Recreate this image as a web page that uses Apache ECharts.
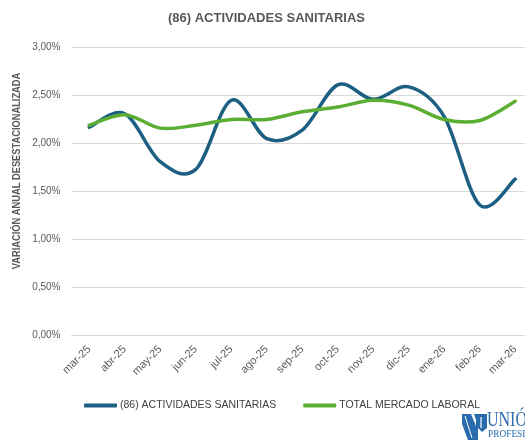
<!DOCTYPE html>
<html>
<head>
<meta charset="utf-8">
<script src="https://cdn.jsdelivr.net/npm/echarts@6/dist/echarts.min.js"></script>
<style>html,body{margin:0;padding:0;background:#fff;}#c{width:525px;height:443px;}</style>
</head>
<body>
<div id="c"></div>
<script>
var categories = ['mar-25','abr-25','may-25','jun-25','jul-25','ago-25','sep-25','oct-25','nov-25','dic-25','ene-26','feb-26','mar-26'];
var sanitarias = [2.17, 2.31, 1.81, 1.73, 2.45, 2.05, 2.14, 2.61, 2.46, 2.59, 2.28, 1.36, 1.63];
var totalMercado = [2.19, 2.30, 2.16, 2.19, 2.25, 2.25, 2.33, 2.38, 2.45, 2.40, 2.25, 2.24, 2.44];
var seriesNames = ['(86) ACTIVIDADES SANITARIAS', 'TOTAL MERCADO LABORAL'];
var titleText = '(86) ACTIVIDADES SANITARIAS';
var yAxisTitle = 'VARIACIÓN ANUAL DESESTACIONALIZADA';

var FONT = "'Liberation Sans', Arial, sans-serif";
var SERIF = "'Liberation Serif', 'DejaVu Serif', serif";
var BLUE = '#1D5F82', GREEN = '#5BAE34', LOGO = '#2A6BAE';

// Excel-style smoothed line (Catmull-Rom through the data points), drawn through the axes' coord()
function smoothRender(color) {
  return function (params, api) {
    if (params.dataIndex !== 0) return null;
    var n = params.dataInsideLength;
    var pts = [];
    for (var j = 0; j < n; j++) pts.push(api.coord([api.value(0, j), api.value(1, j)]));
    var d = 'M' + pts[0][0] + ' ' + pts[0][1];
    for (var i = 0; i < n - 1; i++) {
      var p0 = pts[Math.max(i - 1, 0)], p1 = pts[i], p2 = pts[i + 1], p3 = pts[Math.min(i + 2, n - 1)];
      var c1x = p1[0] + (p2[0] - p0[0]) / 6, c1y = p1[1] + (p2[1] - p0[1]) / 6;
      var c2x = p2[0] - (p3[0] - p1[0]) / 6, c2y = p2[1] - (p3[1] - p1[1]) / 6;
      d += ' C' + c1x + ' ' + c1y + ' ' + c2x + ' ' + c2y + ' ' + p2[0] + ' ' + p2[1];
    }
    return {type: 'path', shape: {pathData: d}, style: {fill: null, stroke: color, lineWidth: 3.5, lineCap: 'round', lineJoin: 'round'}};
  };
}

var chart = echarts.init(document.getElementById('c'), null, {renderer: 'canvas'});
chart.setOption({
  animation: false,
  backgroundColor: '#ffffff',
  title: {
    text: titleText, left: 168, top: 12, padding: 0,
    textStyle: {fontFamily: FONT, fontSize: 13, fontWeight: 'bold', color: '#595959'}
  },
  legend: {
    left: 84, top: 400, padding: 0,
    itemWidth: 33, itemHeight: 4, itemGap: 27,
    icon: 'roundRect',
    textStyle: {fontFamily: FONT, fontSize: 10.5, color: '#404040', padding: [0,0,0,-2]},
    data: [{name: seriesNames[0], itemStyle: {color: BLUE}}, {name: seriesNames[1], itemStyle: {color: GREEN}}]
  },
  grid: {left: 71.5, top: 47.5, width: 461.5, height: 288, outerBoundsMode: 'none', containLabel: false},
  xAxis: {
    type: 'category', data: categories, boundaryGap: true,
    axisLine: {lineStyle: {color: '#D9D9D9', width: 1}},
    axisTick: {show: false},
    axisLabel: {rotate: 45, margin: 12, fontFamily: FONT, fontSize: 11, color: '#595959', interval: 0}
  },
  yAxis: {
    type: 'value', min: 0, max: 3, interval: 0.5,
    axisLine: {show: false}, axisTick: {show: false},
    splitLine: {lineStyle: {color: '#D9D9D9', width: 1}},
    axisLabel: {margin: 11, fontFamily: FONT, fontSize: 10, color: '#595959',
      formatter: function(v){ return v.toFixed(2).replace('.', ',') + '%'; }}
  },
  series: [
    {name: seriesNames[0], type: 'custom', renderItem: smoothRender(BLUE),
     data: sanitarias.map(function(v, i){ return [i, v]; }), itemStyle: {color: BLUE}, z: 2, clip: false},
    {name: seriesNames[1], type: 'custom', renderItem: smoothRender(GREEN),
     data: totalMercado.map(function(v, i){ return [i, v]; }), itemStyle: {color: GREEN}, z: 3, clip: false}
  ],
  graphic: [
    {type: 'text', x: 17, y: 171, rotation: Math.PI/2, scaleX: 0.93,
     style: {text: yAxisTitle, font: "bold 10px " + FONT, fill: '#595959', align: 'center', verticalAlign: 'middle'}},
    {type: 'group', x: 462, y: 414, children: [
      {type: 'polygon', shape: {points: [[0,0],[9,0],[14,12],[14,26],[6,26],[0,10]]}, style: {fill: LOGO}},
      {type: 'polygon', shape: {points: [[12,0],[25,0],[25,14],[20,18],[16,14],[16,26],[14,26],[14,6]]}, style: {fill: LOGO}},
      {type: 'line', shape: {x1: 3, y1: 2, x2: 10, y2: 24}, style: {stroke: '#ffffff', lineWidth: 1}},
      {type: 'line', shape: {x1: 19, y1: 3, x2: 19, y2: 14}, style: {stroke: '#ffffff', lineWidth: 1.2}},
      {type: 'text', x: 25, y: -3, scaleX: 0.8, style: {text: 'UNIÓN', font: "20px " + SERIF, fill: LOGO}},
      {type: 'text', x: 26, y: 15, scaleX: 0.85, style: {text: 'PROFESIONAL', font: "11px " + SERIF, fill: LOGO}}
    ]}
  ]
});
</script>
</body>
</html>
